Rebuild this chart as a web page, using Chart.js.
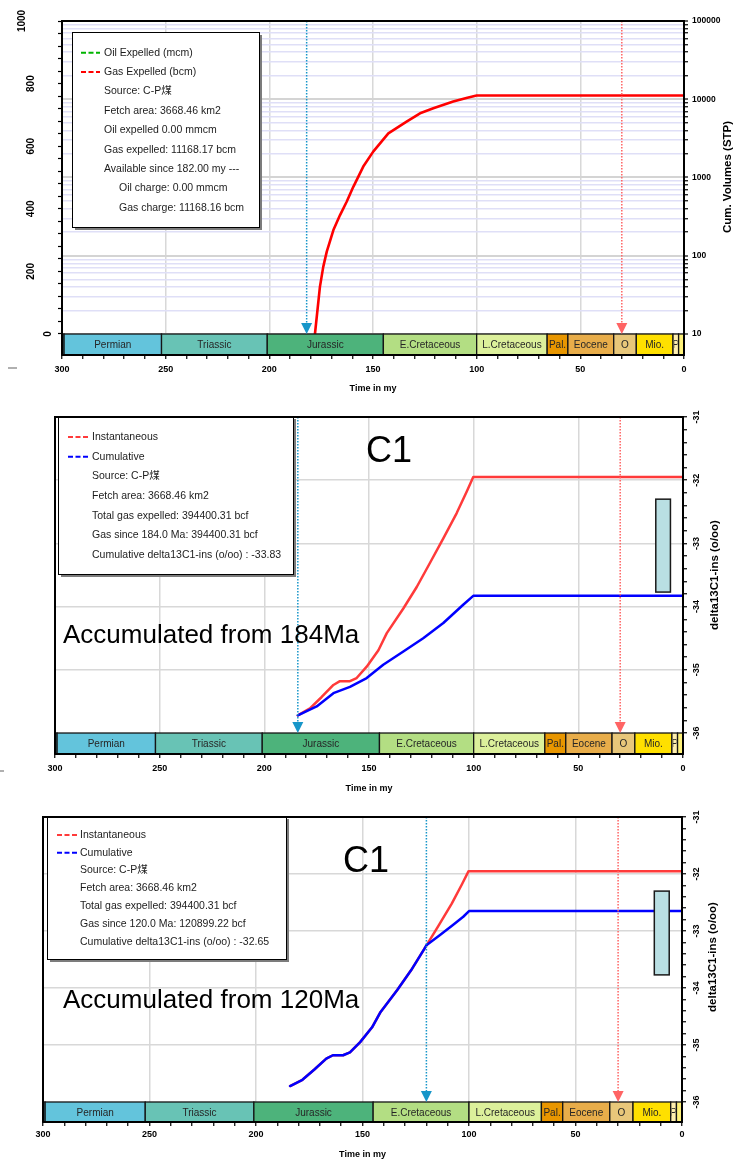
<!DOCTYPE html>
<html>
<head>
<meta charset="utf-8">
<script src="https://cdn.jsdelivr.net/npm/chart.js@4"></script>
<style>
html, body { margin: 0; padding: 0; background: #fff; }
body { width: 734px; height: 1160px; position: relative; overflow: hidden; }
canvas { position: absolute; left: 0; }
</style>
</head>
<body>
<canvas id="gasChart" width="734" height="395" style="top:0px"></canvas>
<canvas id="c1From184" width="734" height="400" style="top:395px"></canvas>
<canvas id="c1From120" width="734" height="365" style="top:795px"></canvas>
<script>
const FONT = "'Liberation Sans', Arial, 'Noto Sans CJK SC', sans-serif";

// tick labels
const ageTicks = [300, 250, 200, 150, 100, 50, 0];
const volumeTicks = [10, 100, 1000, 10000, 100000];
const oilTicks = [0, 200, 400, 600, 800, 1000];
const deltaTicks = [-31, -32, -33, -34, -35, -36];

// geologic time bar
const periodNames = ['', 'Permian', 'Triassic', 'Jurassic', 'E.Cretaceous', 'L.Cretaceous', 'Pal.', 'Eocene', 'O', 'Mio.', 'P', ''];
const periodFrom  = [300, 299, 252, 201, 145, 100, 66, 56, 33.9, 23, 5.3, 2.6];
const periodTo    = [299, 252, 201, 145, 100, 66, 56, 33.9, 23, 5.3, 2.6, 0];
const periodColors = ['#4e9fb2', '#63c4dc', '#68c3b5', '#4db37b', '#b3de83', '#dcf09b',
  '#e89600', '#e8ad4a', '#e8c77a', '#ffe000', '#ffefae', '#fff27a'];

// gas expelled (bcm) - top panel
const gasAge = [178, 175.6, 174.0, 172.3, 169.1, 165.9, 162.7, 159.5, 154.7, 149.9, 142.6, 133.8, 127.3, 120.9, 111.3, 104.5, 100, 0];
const gasBcm = [10, 40, 72, 113, 213, 331, 490, 760, 1380, 2140, 3670, 5170, 6610, 7660, 9330, 10450, 11168, 11168];

// delta13C1 instantaneous
const instAge   = [184, 178.2, 172.6, 167.0, 163.9, 159.1, 155.9, 151.1, 145.5, 141.5, 133.6, 127.2, 120.9, 114.5, 108.1, 103.3, 100.2, 0];
const instDelta = [-35.72, -35.61, -35.43, -35.24, -35.18, -35.18, -35.13, -34.95, -34.69, -34.42, -34.03, -33.69, -33.31, -32.92, -32.52, -32.18, -31.95, -31.95];

// cumulative since 184 Ma
const cum184Age   = [184, 175, 167, 159.1, 151.1, 143.2, 133.6, 124.1, 114.5, 105, 100.2, 0];
const cum184Delta = [-35.72, -35.58, -35.37, -35.27, -35.13, -34.92, -34.71, -34.50, -34.26, -33.97, -33.83, -33.83];

// cumulative since 120 Ma
const cum120Age   = [120, 113.6, 107.4, 102.7, 100, 0];
const cum120Delta = [-33.25, -33.07, -32.89, -32.75, -32.65, -32.65];

// measured delta13C1 range
const measuredAge = [13, 6];
const measuredDelta = [-32.3, -33.77];

// arrows
const chargeAge = [182, 184, 120];
const traceAge = 30;

const gasLegend = ['Oil Expelled (mcm)', 'Gas Expelled (bcm)', 'Source: C-P煤', 'Fetch area: 3668.46 km2',
  'Oil expelled 0.00 mmcm', 'Gas expelled: 11168.17 bcm', 'Available since 182.00 my ---',
  'Oil charge: 0.00 mmcm', 'Gas charge: 11168.16 bcm'];
const c184Legend = ['Instantaneous', 'Cumulative', 'Source: C-P煤', 'Fetch area: 3668.46 km2',
  'Total gas expelled: 394400.31 bcf', 'Gas since 184.0 Ma: 394400.31 bcf', 'Cumulative delta13C1-ins (o/oo) : -33.83'];
const c120Legend = ['Instantaneous', 'Cumulative', 'Source: C-P煤', 'Fetch area: 3668.46 km2',
  'Total gas expelled: 394400.31 bcf', 'Gas since 120.0 Ma: 120899.22 bcf', 'Cumulative delta13C1-ins (o/oo) : -32.65'];

function pts(ages, vals) { return ages.map((a, i) => ({x: a, y: vals[i]})); }

function rotText(ctx, t, x, y) {
  ctx.save();
  ctx.translate(x, y);
  ctx.rotate(-Math.PI / 2);
  ctx.textAlign = 'center';
  ctx.textBaseline = 'middle';
  ctx.fillText(t, 0, 0);
  ctx.restore();
}

function drawMarker(ctx, x, top, tip, color) {
  ctx.save();
  ctx.strokeStyle = color;
  ctx.lineWidth = 1.5;
  ctx.setLineDash([1.5, 1.5]);
  ctx.beginPath();
  ctx.moveTo(x, top);
  ctx.lineTo(x, tip - 10);
  ctx.stroke();
  ctx.setLineDash([]);
  ctx.fillStyle = color;
  ctx.beginPath();
  ctx.moveTo(x - 5.5, tip - 11);
  ctx.lineTo(x + 5.5, tip - 11);
  ctx.lineTo(x, tip);
  ctx.closePath();
  ctx.fill();
  ctx.restore();
}

function drawLegend(ctx, L) {
  ctx.save();
  ctx.fillStyle = '#7c7c7c';
  ctx.fillRect(L.x + 3, L.y + 3, L.w, L.h);
  ctx.fillStyle = '#fff';
  ctx.fillRect(L.x, L.y, L.w, L.h);
  ctx.strokeStyle = '#000';
  ctx.lineWidth = 1;
  ctx.strokeRect(L.x + 0.5, L.y + 0.5, L.w, L.h);
  ctx.font = '10.5px ' + FONT;
  ctx.textAlign = 'left';
  ctx.textBaseline = 'middle';
  L.lines.forEach((t, i) => {
    const y = L.row0 + i * L.gap;
    if (L.colors[i]) {
      ctx.strokeStyle = L.colors[i];
      ctx.lineWidth = 2;
      ctx.setLineDash([5, 2.5]);
      ctx.beginPath();
      ctx.moveTo(L.sx0, y);
      ctx.lineTo(L.sx1, y);
      ctx.stroke();
      ctx.setLineDash([]);
    }
    ctx.fillStyle = '#1c1c1c';
    ctx.fillText(t, L.tx + (L.indent && L.indent[i] ? L.indent[i] : 0), y);
  });
  ctx.restore();
}

const decor = {
  id: 'decor',
  afterDraw(chart, args, o) {
    const ctx = chart.ctx, a = chart.chartArea;
    const sx = chart.scales.x, sy = chart.scales.yR;
    const barTop = sy.getPixelForValue(o.barValue);
    ctx.save();

    // period bar
    ctx.font = '10px ' + FONT;
    ctx.textAlign = 'center';
    ctx.textBaseline = 'middle';
    periodNames.forEach((n, i) => {
      const x0 = sx.getPixelForValue(periodFrom[i]), x1 = sx.getPixelForValue(periodTo[i]);
      ctx.fillStyle = periodColors[i];
      ctx.fillRect(x0, barTop, x1 - x0, a.bottom - barTop);
      ctx.strokeStyle = '#151515';
      ctx.lineWidth = 1.3;
      ctx.strokeRect(x0, barTop, x1 - x0, a.bottom - barTop);
      if (n) {
        ctx.save();
        ctx.beginPath();
        ctx.rect(x0 + 1, barTop, x1 - x0 - 2, a.bottom - barTop);
        ctx.clip();
        ctx.fillStyle = '#262626';
        ctx.fillText(n, (x0 + x1) / 2, (barTop + a.bottom) / 2 + 1);
        ctx.restore();
      }
    });

    // measured range box
    if (o.range) {
      const x0 = sx.getPixelForValue(measuredAge[0]), x1 = sx.getPixelForValue(measuredAge[1]);
      const y0 = sy.getPixelForValue(measuredDelta[0]), y1 = sy.getPixelForValue(measuredDelta[1]);
      ctx.fillStyle = '#b9dfe3';
      ctx.fillRect(x0, y0, x1 - x0, y1 - y0);
      ctx.strokeStyle = '#1a1a1a';
      ctx.lineWidth = 1.5;
      ctx.strokeRect(x0, y0, x1 - x0, y1 - y0);
    }

    // arrows
    drawMarker(ctx, sx.getPixelForValue(o.chargeAge), a.top, barTop, '#1796c9');
    drawMarker(ctx, sx.getPixelForValue(traceAge), a.top, barTop, '#ff6464');

    drawLegend(ctx, o.legend);

    // big labels
    ctx.fillStyle = '#000';
    ctx.textAlign = 'left';
    ctx.textBaseline = 'alphabetic';
    (o.texts || []).forEach(t => {
      ctx.font = t.size + 'px ' + FONT;
      ctx.fillText(t.text, t.x, t.y);
    });

    // frame
    ctx.strokeStyle = '#000';
    ctx.lineWidth = 2;
    ctx.beginPath();
    ctx.moveTo(a.left, a.bottom);
    ctx.lineTo(a.left, a.top);
    ctx.lineTo(a.right, a.top);
    ctx.lineTo(a.right, a.bottom);
    ctx.lineTo(a.left, a.bottom);
    ctx.stroke();

    // rotated axis labels
    ctx.fillStyle = '#000';
    if (o.left) {
      const s = chart.scales.yL;
      ctx.font = 'bold 10px ' + FONT;
      oilTicks.forEach(v => {
        const w = ctx.measureText(String(v)).width;
        rotText(ctx, String(v), 56.6 - 1.53 * w, s.getPixelForValue(v));
      });
    }
    if (o.rightRotated) {
      ctx.font = 'bold 9px ' + FONT;
      deltaTicks.forEach(v => rotText(ctx, String(v), o.rightLabelX, sy.getPixelForValue(v)));
    }
    ctx.font = 'bold 11.5px ' + FONT;
    rotText(ctx, o.rightTitle, o.rightTitleX, o.rightTitleY);

    // stray marks at page edge
    if (o.dash) {
      ctx.strokeStyle = '#b0b0b0';
      ctx.lineWidth = 2;
      ctx.beginPath();
      ctx.moveTo(o.dash[0], o.dash[2]);
      ctx.lineTo(o.dash[1], o.dash[2]);
      ctx.stroke();
    }
    ctx.restore();
  }
};
Chart.register(decor);

function ageAxis(height, pad, titlePad) {
  return {
    type: 'linear', position: 'bottom', reverse: true, min: 0, max: 300,
    afterBuildTicks: s => { s.ticks = []; for (let v = 0; v <= 300; v += 10) s.ticks.push({value: v}); },
    ticks: {
      autoSkip: false, maxRotation: 0, minRotation: 0, padding: pad, color: '#000',
      font: {family: FONT, size: 9, weight: 'bold'},
      callback: v => ageTicks.includes(v) ? String(v) : ''
    },
    grid: {
      color: c => (c.tick && c.tick.value % 50 === 0 && c.tick.value > 0 && c.tick.value < 300) ? '#d8d8d8' : 'rgba(0,0,0,0)',
      lineWidth: 1.5, tickColor: '#000', tickWidth: 1.2, tickLength: 4
    },
    border: {color: '#000', width: 2},
    title: {display: true, text: 'Time in my', color: '#000',
      font: {family: FONT, size: 9, weight: 'bold'}, padding: {top: 0, bottom: titlePad}},
    afterFit: s => { s.height = height; }
  };
}

function deltaAxis(min, width) {
  return {
    type: 'linear', position: 'right', min: min, max: -31,
    afterBuildTicks: s => {
      s.ticks = [];
      for (let k = 0; k <= 25; k++) s.ticks.push({value: Math.round((-36 + k * 0.2) * 10) / 10});
    },
    ticks: {display: false},
    grid: {
      color: c => { const v = c.tick && c.tick.value; return (Number.isInteger(v) && v > -36 && v < -31) ? '#d8d8d8' : 'rgba(0,0,0,0)'; },
      lineWidth: 1.5, tickColor: '#000', tickWidth: 1.2, tickLength: 4
    },
    border: {color: '#000', width: 2},
    afterFit: s => { s.width = width; }
  };
}

function commonOptions(padLeft, padTop, scales, decorOpts) {
  return {
    responsive: false, animation: false, events: [],
    layout: {padding: {left: padLeft, top: padTop, right: 0, bottom: 0}},
    plugins: {legend: {display: false}, tooltip: {enabled: false}, decor: decorOpts},
    elements: {point: {radius: 0}, line: {tension: 0, borderJoinStyle: 'round', borderCapStyle: 'round'}},
    scales: scales
  };
}

// ---------- panel 1: cumulative volumes ----------
new Chart(document.getElementById('gasChart'), {
  type: 'line',
  data: {
    datasets: [{
      label: 'Gas Expelled (bcm)', data: pts(gasAge, gasBcm), yAxisID: 'yR',
      borderColor: '#ff0000', borderWidth: 2.6, fill: false
    }]
  },
  options: commonOptions(0, 21, {
    x: ageAxis(40, 5, 1),
    yL: {
      type: 'linear', position: 'left', min: -67.1, max: 1000,
      afterBuildTicks: s => { s.ticks = []; for (let v = 0; v <= 1000; v += 40) s.ticks.push({value: v}); },
      ticks: {display: false},
      grid: {drawOnChartArea: false, tickColor: '#000', tickWidth: 1.2, tickLength: 4},
      border: {color: '#000', width: 2},
      afterFit: s => { s.width = 62; }
    },
    yR: {
      type: 'logarithmic', position: 'right', min: 5.39, max: 100000,
      afterBuildTicks: s => {
        s.ticks = [];
        for (let e = 1; e <= 4; e++) for (let d = 1; d <= 9; d++) s.ticks.push({value: d * Math.pow(10, e)});
        s.ticks.push({value: 100000});
      },
      ticks: {
        autoSkip: false, padding: 4, color: '#000',
        font: {family: FONT, size: 8.5, weight: 'bold'},
        callback: v => volumeTicks.includes(v) ? String(v) : ''
      },
      grid: {
        color: c => (c.tick && volumeTicks.includes(c.tick.value)) ? '#d4d4d4' : '#dfdff7',
        lineWidth: c => (c.tick && volumeTicks.includes(c.tick.value)) ? 2 : 1.5,
        tickColor: '#000', tickWidth: 1.2, tickLength: 4
      },
      border: {color: '#000', width: 2},
      afterFit: s => { s.width = 50; }
    }
  }, {
    barValue: 10, chargeAge: chargeAge[0], left: true,
    rightTitle: 'Cum. Volumes (STP)', rightTitleX: 728, rightTitleY: 177,
    dash: [8, 17, 368],
    legend: {x: 72, y: 32, w: 187, h: 195, row0: 52.7, gap: 19.4, tx: 104, sx0: 81, sx1: 100,
      lines: gasLegend, colors: ['#00b400', '#ff0000'], indent: {7: 15, 8: 15}}
  })
});

// ---------- panel 2: delta13C1, accumulated from 184 Ma ----------
new Chart(document.getElementById('c1From184'), {
  type: 'line',
  data: {
    datasets: [
      {label: 'Cumulative', data: pts(cum184Age, cum184Delta), yAxisID: 'yR', borderColor: '#0000ff', borderWidth: 2.5},
      {label: 'Instantaneous', data: pts(instAge, instDelta), yAxisID: 'yR', borderColor: '#ff3a3a', borderWidth: 2.5}
    ]
  },
  options: commonOptions(55, 22, {
    x: ageAxis(41, 5, 1),
    yR: deltaAxis(-36.332, 51)
  }, {
    barValue: -36, chargeAge: chargeAge[1], range: true, rightRotated: true, rightLabelX: 697,
    rightTitle: 'delta13C1-ins (o/oo)', rightTitleX: 715, rightTitleY: 180,
    dash: [0, 4, 376],
    legend: {x: 58, y: 21, w: 235, h: 158, row0: 42, gap: 19.67, tx: 92, sx0: 68, sx1: 88,
      lines: c184Legend, colors: ['#ff3a3a', '#0000ff']},
    texts: [
      {text: 'C1', x: 366, y: 67, size: 36},
      {text: 'Accumulated from 184Ma', x: 63, y: 248, size: 26}
    ]
  })
});

// ---------- panel 3: delta13C1, accumulated from 120 Ma ----------
const cum120Full = pts(instAge, instDelta).filter(p => p.x > 120).concat(pts(cum120Age, cum120Delta));
new Chart(document.getElementById('c1From120'), {
  type: 'line',
  data: {
    datasets: [
      {label: 'Cumulative', data: cum120Full, yAxisID: 'yR', borderColor: '#0000ff', borderWidth: 2.5},
      {label: 'Instantaneous', data: pts(instAge, instDelta), yAxisID: 'yR', borderColor: '#ff3a3a', borderWidth: 2.5}
    ]
  },
  options: commonOptions(43, 22, {
    x: ageAxis(38, 3, 0),
    yR: deltaAxis(-36.351, 52)
  }, {
    barValue: -36, chargeAge: chargeAge[2], range: true, rightRotated: true, rightLabelX: 697,
    rightTitle: 'delta13C1-ins (o/oo)', rightTitleX: 713, rightTitleY: 162,
    legend: {x: 47, y: 21, w: 239, h: 143, row0: 40, gap: 17.8, tx: 80, sx0: 57, sx1: 77,
      lines: c120Legend, colors: ['#ff3a3a', '#0000ff']},
    texts: [
      {text: 'C1', x: 343, y: 77, size: 36},
      {text: 'Accumulated from 120Ma', x: 63, y: 213, size: 26}
    ]
  })
});
</script>
</body>
</html>
